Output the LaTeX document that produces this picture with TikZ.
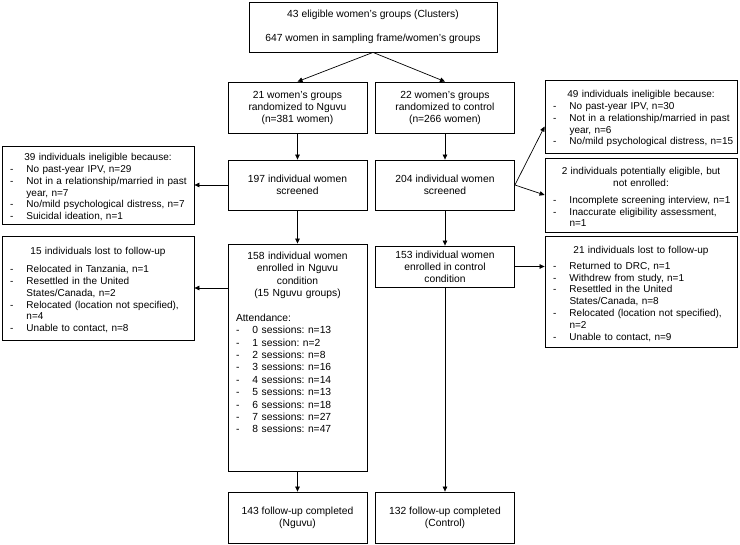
\documentclass[tikz,border=0pt]{standalone}
\usepackage{fontspec}
\setmainfont{Liberation Sans}
\usetikzlibrary{arrows.meta}
\frenchspacing
\newcommand{\boxhead}[1]{\par\noindent\makebox[\linewidth][c]{#1}\par}
\newcommand{\itemline}[1]{\par\noindent\makebox[16.5pt][l]{-}\mbox{#1}\par}
\newcommand{\contline}[1]{\par\noindent\hspace*{16.5pt}\mbox{#1}\par}
\tikzset{
  box/.style={draw, line width=0.8pt, inner xsep=4pt, inner ysep=3pt, align=center,
    minimum width=139pt, minimum height=50pt, font=\fontsize{10.3}{12}\selectfont},
  listbox/.style={box, text width=176pt, inner xsep=8pt, align=left,
    font=\fontsize{10}{11.8}\selectfont},
  flow/.style={->, line width=0.7pt},
}

\begin{document}
\begin{tikzpicture}[x=1pt, y=1pt, >={Triangle[length=5pt,width=4.5pt]}]
  \path[use as bounding box, fill=white] (0,0) rectangle (740,-545);
  \node[box, minimum width=248pt] (top) at (373,-27)
    {43 eligible women's groups (Clusters)\\[12pt]647 women in sampling frame/women's groups};
  \node[box, minimum height=51pt] (ngrp) at (297.5,-107.5) {21 women's groups\\randomized to Nguvu\\(n=381 women)};
  \node[box, minimum height=51pt] (cgrp) at (445,-107.5) {22 women's groups\\randomized to control\\(n=266 women)};
  \node[box] (nscr) at (297.5,-185) {197 individual women\\screened};
  \node[box] (cscr) at (445,-185) {204 individual women\\screened};
  \node[box, text width=123pt, inner xsep=8pt, align=left, minimum height=223pt,
    font=\fontsize{10.3}{12.4}\selectfont] (nenr) at (297.5,-357.5)
    {\boxhead{158 individual women}\boxhead{enrolled in Nguvu}\boxhead{condition}%
     \boxhead{(15 Nguvu groups)}\vspace{12.4pt}%
     \noindent Attendance:\par
     \itemline{0 sessions: n=13}\itemline{1 session: n=2}\itemline{2 sessions: n=8}%
     \itemline{3 sessions: n=16}\itemline{4 sessions: n=14}\itemline{5 sessions: n=13}%
     \itemline{6 sessions: n=18}\itemline{7 sessions: n=27}\itemline{8 sessions: n=47}%
     \par\vbox to 34pt{}};
  \node[box, minimum height=41pt] (cenr) at (445,-266.5)
    {153 individual women\\enrolled in control\\condition};
  \node[box, minimum height=51pt] (nfu) at (297.5,-517.5) {143 follow-up completed\\(Nguvu)};
  \node[box, minimum height=51pt] (cfu) at (445,-517.5) {132 follow-up completed\\(Control)};
  \node[listbox, minimum height=76pt] (linel) at (98,-185)
    {\boxhead{39 individuals ineligible because:}%
     \itemline{No past-year IPV, n=29}%
     \itemline{Not in a relationship/married in past}\contline{year, n=7}%
     \itemline{No/mild psychological distress, n=7}%
     \itemline{Suicidal ideation, n=1}};
  \node[listbox, minimum height=104pt] (llost) at (98,-288)
    {\boxhead{15 individuals lost to follow-up}\vspace{6pt}%
     \itemline{Relocated in Tanzania, n=1}%
     \itemline{Resettled in the United}\contline{States/Canada, n=2}%
     \itemline{Relocated (location not specified),}\contline{n=4}%
     \itemline{Unable to contact, n=8}};
  \node[listbox, minimum height=73pt] (rinel) at (641,-116.5)
    {\boxhead{49 individuals ineligible because:}%
     \itemline{No past-year IPV, n=30}%
     \itemline{Not in a relationship/married in past}\contline{year, n=6}%
     \itemline{No/mild psychological distress, n=15}};
  \node[listbox, minimum height=74pt] (rpot) at (641,-195)
    {\boxhead{2 individuals potentially eligible, but}\boxhead{not enrolled:}\vspace{5pt}%
     \itemline{Incomplete screening interview, n=1}%
     \itemline{Inaccurate eligibility assessment,}\contline{n=1}};
  \node[listbox, minimum height=111pt] (rlost) at (641,-291.5)
    {\boxhead{21 individuals lost to follow-up}\vspace{4pt}%
     \itemline{Returned to DRC, n=1}%
     \itemline{Withdrew from study, n=1}%
     \itemline{Resettled in the United}\contline{States/Canada, n=8}%
     \itemline{Relocated (location not specified),}\contline{n=2}%
     \itemline{Unable to contact, n=9}};
  \draw[flow] (top.south) -- (ngrp.north);
  \draw[flow] (top.south) -- (cgrp.north);
  \draw[flow] (ngrp) -- (nscr);
  \draw[flow] (cgrp) -- (cscr);
  \draw[flow] (nscr) -- (linel);
  \draw[flow] (cscr.east) -- ([yshift=-10pt]rinel.west);
  \draw[flow] (cscr.east) -- (rpot.west);
  \draw[flow] (nscr) -- (nenr);
  \draw[flow] (cscr) -- (cenr);
  \draw[flow] (nenr.west |- llost.east) -- (llost.east);
  \draw[flow] (cenr.east) -- (cenr.east -| rlost.west);
  \draw[flow] (nenr) -- (nfu);
  \draw[flow] (cenr) -- (cfu);
\end{tikzpicture}
\end{document}
